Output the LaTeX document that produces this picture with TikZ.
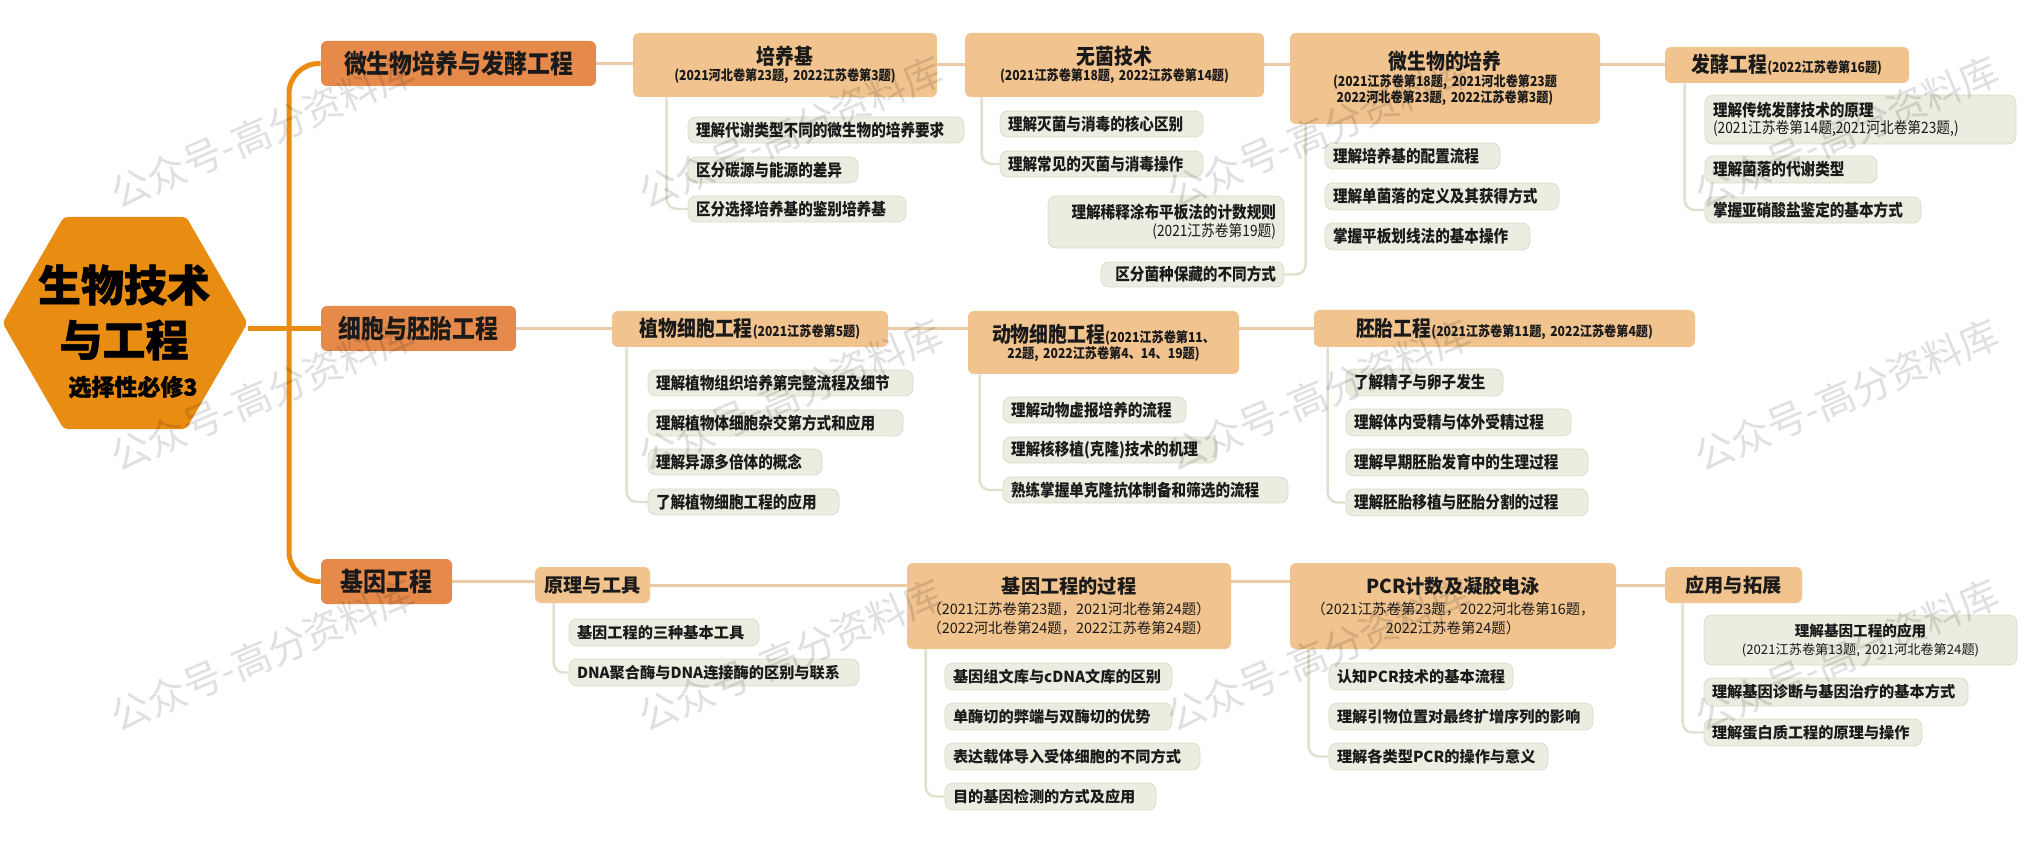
\documentclass[tikz,border=0pt]{standalone}
\usepackage{fontspec}
\setmainfont{Noto Sans CJK SC}
\newfontfamily\cf{Noto Sans CJK SC}[FakeStretch=0.88]
\newfontfamily\nf{Noto Sans CJK SC}
\newfontfamily\hexf{Noto Sans CJK SC}[BoldFeatures={FakeBold=1.2}]
\usetikzlibrary{shapes.geometric,backgrounds}
\definecolor{hexC}{HTML}{E88C12}
\definecolor{brC}{HTML}{E68A4C}
\definecolor{subC}{HTML}{F1C38E}
\definecolor{leafC}{HTML}{ECECE0}
\definecolor{leafD}{HTML}{DDDCCB}
\definecolor{conC}{HTML}{EACBA8}
\definecolor{brkC}{HTML}{E2DFCF}
\definecolor{txtC}{HTML}{1A1A1A}
\newcommand\ttlA{\cf\bfseries\fontsize{10.7}{13}\selectfont}
\newcommand\sbtA{\cf\bfseries\fontsize{6.9}{8.1}\selectfont}
\newcommand\ttlB{\nf\bfseries\fontsize{9.6}{12}\selectfont}
\newcommand\sbtB{\nf\fontsize{7.2}{9.5}\selectfont}
\newcommand\mmnode[7]{%
  \pgfmathsetmacro\mmw{(#5-#3)*0.5}%
  \pgfmathsetmacro\mmh{(#6-#4)*0.5}%
  \pgfmathsetmacro\mmtw{(#5-#3)*0.5-8}%
  \node[#1, inner xsep=4pt, inner ysep=0pt, text width=\mmtw pt, minimum width=\mmw pt, minimum height=\mmh pt] (#2) at ({(#3+#5)/2},{(#4+#6)/2}) {#7};}
\begin{document}
\begin{tikzpicture}[x=0.5pt,y=-0.5pt,
  br/.style={fill=brC, rounded corners=3pt, align=center, text=txtC, font=\cf\bfseries\fontsize{13}{15}\selectfont},
  sub/.style={fill=subC, rounded corners=3pt, align=center, text=txtC, font=\cf\fontsize{7}{8.1}\selectfont},
  subB/.style={sub, font=\nf\fontsize{7}{9.5}\selectfont},
  leaf/.style={fill=leafC, draw=leafD, line width=0.4pt, rounded corners=4pt, align=left, text=txtC, font=\cf\bfseries\fontsize{8.3}{10}\selectfont},
  leafB/.style={leaf, font=\nf\bfseries\fontsize{7.6}{10}\selectfont},
  hexs/.style={regular polygon, regular polygon sides=6, minimum size=122.5pt, inner sep=0pt, fill=hexC, rounded corners=2pt},
  hext/.style={inner sep=0pt, text=black},
  trunk/.style={draw=hexC, line width=2.5pt},
  con/.style={draw=conC, line width=1.5pt},
  brk/.style={draw=brkC, line width=1.2pt, rounded corners=5pt},
  wm/.style={rotate=23, inner sep=0pt, text=black, text opacity=0.12, font=\nf\fontsize{19.5}{20}\selectfont}
]
\useasboundingbox (0,0) rectangle (2044,849);

% central hexagon
\node[hexs] (hex) at (125,323) {};
\node[hext, font=\hexf\bfseries\fontsize{21.5}{22}\selectfont] (h1) at (124,285) {生物技术};
\node[hext, font=\hexf\bfseries\fontsize{21.5}{22}\selectfont] (h2) at (124,340) {与工程};
\node[hext, font=\hexf\bfseries\fontsize{11.5}{12}\selectfont] (h3) at (133,387) {选择性必修3};
\coordinate (tk) at (289,328);

% branches
\mmnode{br}{b1}{321}{41}{596}{86}{微生物培养与发酵工程}
\mmnode{br}{b2}{321}{306}{516}{351}{细胞与胚胎工程}
\mmnode{br}{b3}{321}{559}{452}{604}{基因工程}

% sub topics row 1
\mmnode{sub}{s11}{633}{33}{937}{97}{{\ttlA 培养基}\\{\sbtA (2021河北卷第23题, 2022江苏卷第3题)}}
\mmnode{sub}{s12}{965}{33}{1264}{97}{{\ttlA 无菌技术}\\{\sbtA (2021江苏卷第18题, 2022江苏卷第14题)}}
\mmnode{sub}{s13}{1290}{33}{1600}{124}{{\ttlA 微生物的培养}\\{\sbtA (2021江苏卷第18题, 2021河北卷第23题}\\{\sbtA 2022河北卷第23题, 2022江苏卷第3题)}}
\mmnode{sub}{s14}{1665}{47}{1909}{83}{{\ttlA 发酵工程}{\sbtA (2022江苏卷第16题)}}
% row 2
\mmnode{sub}{s21}{612}{311}{888}{347}{{\ttlA 植物细胞工程}{\sbtA (2021江苏卷第5题)}}
\mmnode{sub}{s22}{968}{311}{1239}{374}{{\ttlA 动物细胞工程}{\sbtA (2021江苏卷第11、}\\{\sbtA 22题, 2022江苏卷第4、14、19题)}}
\mmnode{sub}{s23}{1314}{310}{1695}{347}{{\ttlA 胚胎工程}{\sbtA (2021江苏卷第11题, 2022江苏卷第4题)}}
% row 3
\mmnode{subB}{s31}{535}{567}{650}{603}{{\ttlB 原理与工具}}
\mmnode{subB}{s32}{907}{563}{1231}{649}{{\ttlB 基因工程的过程}\\[1pt]{\sbtB （2021江苏卷第23题，2021河北卷第24题）}\\{\sbtB （2022河北卷第24题，2022江苏卷第24题）}}
\mmnode{subB}{s33}{1290}{563}{1616}{649}{{\ttlB PCR计数及凝胶电泳}\\[1pt]{\sbtB （2021江苏卷第23题，2022河北卷第16题，}\\{\sbtB 2022江苏卷第24题）}}
\mmnode{subB}{s34}{1665}{567}{1802}{603}{{\ttlB 应用与拓展}}

% leaves row 1
\mmnode{leaf}{l11}{688}{117}{964}{143}{理解代谢类型不同的微生物的培养要求}
\mmnode{leaf}{l12}{688}{157}{858}{183}{区分碳源与能源的差异}
\mmnode{leaf}{l13}{688}{196}{906}{222}{区分选择培养基的鉴别培养基}
\mmnode{leaf}{l21}{1000}{111}{1203}{137}{理解灭菌与消毒的核心区别}
\mmnode{leaf}{l22}{1000}{151}{1203}{177}{理解常见的灭菌与消毒操作}
\mmnode{leaf,align=right,font=\cf\bfseries\fontsize{8.3}{9}\selectfont}{l31}{1048}{196}{1284}{248}{理解稀释涂布平板法的计数规则\\{\mdseries\fontsize{7.8}{9}\selectfont (2021江苏卷第19题)}}
\mmnode{leaf,align=right}{l32}{1101}{262}{1284}{287}{区分菌种保藏的不同方式}
\mmnode{leaf}{l33}{1325}{143}{1500}{169}{理解培养基的配置流程}
\mmnode{leaf}{l34}{1325}{183}{1559}{210}{理解单菌落的定义及其获得方式}
\mmnode{leaf}{l35}{1325}{223}{1530}{250}{掌握平板划线法的基本操作}
\mmnode{leaf,font=\cf\bfseries\fontsize{8.3}{8.5}\selectfont}{l41}{1705}{95}{2016}{144}{理解传统发酵技术的原理\\{\mdseries\fontsize{7.8}{8.5}\selectfont (2021江苏卷第14题,2021河北卷第23题,)}}
\mmnode{leaf}{l42}{1705}{156}{1877}{183}{理解菌落的代谢类型}
\mmnode{leaf}{l43}{1705}{197}{1921}{223}{掌握亚硝酸盐鉴定的基本方式}
% leaves row 2
\mmnode{leaf}{m11}{648}{370}{913}{396}{理解植物组织培养第完整流程及细节}
\mmnode{leaf}{m12}{648}{410}{903}{436}{理解植物体细胞杂交第方式和应用}
\mmnode{leaf}{m13}{648}{449}{822}{475}{理解异源多倍体的概念}
\mmnode{leaf}{m14}{648}{489}{839}{515}{了解植物细胞工程的应用}
\mmnode{leaf}{m21}{1003}{397}{1186}{423}{理解动物虚报培养的流程}
\mmnode{leaf}{m22}{1003}{437}{1217}{463}{理解核移植(克隆)技术的机理}
\mmnode{leaf}{m23}{1003}{477}{1288}{503}{熟练掌握单克隆抗体制备和筛选的流程}
\mmnode{leaf}{m31}{1346}{369}{1503}{396}{了解精子与卵子发生}
\mmnode{leaf}{m32}{1346}{409}{1571}{436}{理解体内受精与体外受精过程}
\mmnode{leaf}{m33}{1346}{449}{1588}{476}{理解早期胚胎发育中的生理过程}
\mmnode{leaf}{m34}{1346}{489}{1588}{516}{理解胚胎移植与胚胎分割的过程}
% leaves row 3
\mmnode{leafB}{n11}{569}{619}{759}{646}{基因工程的三种基本工具}
\mmnode{leafB}{n12}{569}{659}{859}{686}{DNA聚合酶与DNA连接酶的区别与联系}
\mmnode{leafB}{n21}{945}{663}{1172}{690}{基因组文库与cDNA文库的区别}
\mmnode{leafB}{n22}{945}{703}{1172}{730}{单酶切的弊端与双酶切的优势}
\mmnode{leafB}{n23}{945}{743}{1200}{770}{表达载体导入受体细胞的不同方式}
\mmnode{leafB}{n24}{945}{783}{1156}{810}{目的基因检测的方式及应用}
\mmnode{leafB}{n31}{1329}{663}{1513}{690}{认知PCR技术的基本流程}
\mmnode{leafB}{n32}{1329}{703}{1593}{730}{理解引物位置对最终扩增序列的影响}
\mmnode{leafB}{n33}{1329}{743}{1548}{770}{理解各类型PCR的操作与意义}
\mmnode{leafB,align=center,font=\nf\bfseries\fontsize{7.3}{9}\selectfont}{n41}{1704}{615}{2017}{665}{理解基因工程的应用\\{\mdseries\fontsize{6.6}{9}\selectfont (2021江苏卷第13题, 2021河北卷第24题)}}
\mmnode{leafB}{n42}{1704}{678}{1968}{706}{理解基因诊断与基因治疗的基本方式}
\mmnode{leafB}{n43}{1704}{719}{1922}{746}{理解蛋白质工程的原理与操作}

% connectors
\begin{pgfonlayer}{background}
\fill[white] (0,0) rectangle (2044,849);
\draw[trunk, rounded corners=15pt] (b1.west) -| (tk) |- (b3.west);
\draw[trunk] (b2.west) -- (b2.west -| hex.east);
\draw[con] (b1.east) -- (b1.east -| s11.west);
\draw[con] (s11.east) -- (s11.east -| s12.west);
\draw[con] (s12.east) -- (s12.east -| s13.west);
\draw[con] (s14.west) -- (s14.west -| s13.east);
\draw[con] (b2.east) -- (b2.east -| s21.west);
\draw[con] (s21.east) -- (s21.east -| s22.west);
\draw[con] (s23.west) -- (s23.west -| s22.east);
\draw[con] (b3.east) -- (b3.east -| s31.west);
\draw[con] (s31.east) -- (s31.east -| s32.west);
\draw[con] ([yshift=-9.5pt]s32.north east) -- ([yshift=-9.5pt]s33.north west);
\draw[con] (s34.west) -- (s34.west -| s33.east);
\draw[brk] ([xshift=17pt]s11.south west) |- (l13.west);
\draw[brk] ([xshift=8.5pt]s12.south west) |- (l22.west);
\draw[brk] ([xshift=8pt]s13.south west) |- (l32.east);
\draw[brk] ([xshift=10pt]s14.south west) |- (l43.west);
\draw[brk] ([xshift=7.5pt]s21.south west) |- (m14.west);
\draw[brk] ([xshift=6pt]s22.south west) |- (m23.west);
\draw[brk] ([xshift=7pt]s23.south west) |- (m34.west);
\draw[brk] ([xshift=9.5pt]s31.south west) |- (n12.west);
\draw[brk] ([xshift=9.5pt]s32.south west) |- (n24.west);
\draw[brk] ([xshift=9.5pt]s33.south west) |- (n33.west);
\draw[brk] ([xshift=9pt]s34.south west) |- (n43.west);
\end{pgfonlayer}

% watermarks
\node[wm] (wm1) at (263,132) {公众号-高分资料库};
\node[wm] (wm2) at (791,132) {公众号-高分资料库};
\node[wm] (wm3) at (1319,132) {公众号-高分资料库};
\node[wm] (wm4) at (1847,132) {公众号-高分资料库};
\node[wm] (wm5) at (263,395) {公众号-高分资料库};
\node[wm] (wm6) at (791,395) {公众号-高分资料库};
\node[wm] (wm7) at (1319,395) {公众号-高分资料库};
\node[wm] (wm8) at (1847,395) {公众号-高分资料库};
\node[wm] (wm9) at (263,655) {公众号-高分资料库};
\node[wm] (wm10) at (791,655) {公众号-高分资料库};
\node[wm] (wm11) at (1319,655) {公众号-高分资料库};
\node[wm] (wm12) at (1847,655) {公众号-高分资料库};
\end{tikzpicture}
\end{document}
